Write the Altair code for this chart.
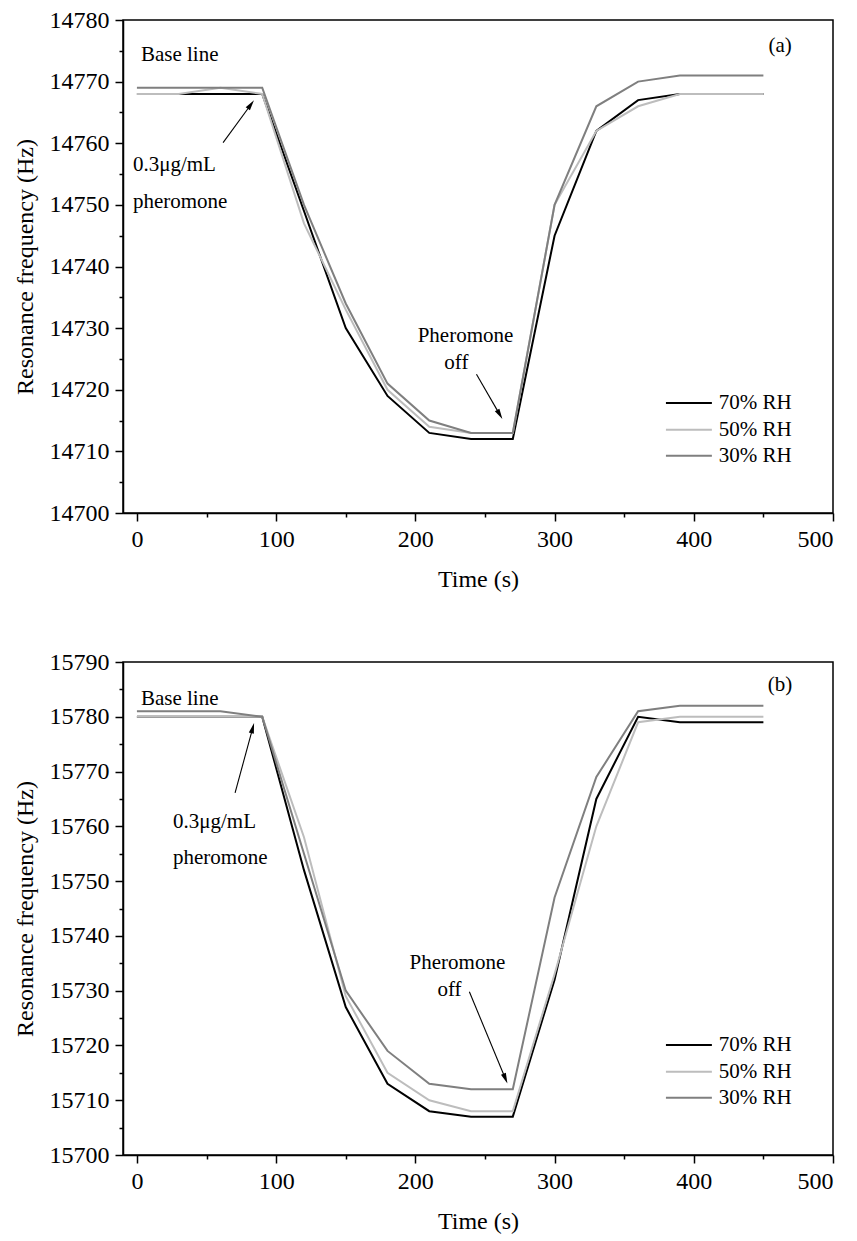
import math
import altair as alt
import pandas as pd

# ---------------- data ----------------
time_s = [0, 30, 60, 90, 120, 150, 180, 210, 240, 270, 300, 330, 360, 390, 420, 450]
rh_labels = ["70% RH", "50% RH", "30% RH"]
rh_colors = ["#000000", "#bdbdbd", "#7f7f7f"]

a_rh70 = [14768, 14768, 14768, 14768, 14749, 14730, 14719, 14713, 14712, 14712, 14745, 14762, 14767, 14768, 14768, 14768]
a_rh50 = [14768, 14768, 14769, 14768, 14747, 14733, 14720, 14714, 14713, 14713, 14750, 14762, 14766, 14768, 14768, 14768]
a_rh30 = [14769, 14769, 14769, 14769, 14750, 14734, 14721, 14715, 14713, 14713, 14750, 14766, 14770, 14771, 14771, 14771]

b_rh70 = [15780, 15780, 15780, 15780, 15752, 15727, 15713, 15708, 15707, 15707, 15732, 15765, 15780, 15779, 15779, 15779]
b_rh50 = [15780, 15780, 15780, 15780, 15758, 15729, 15715, 15710, 15708, 15708, 15733, 15760, 15779, 15780, 15780, 15780]
b_rh30 = [15781, 15781, 15781, 15780, 15755, 15730, 15719, 15713, 15712, 15712, 15747, 15769, 15781, 15782, 15782, 15782]

x_domain = [-10, 500]
a_ydomain = [14700, 14780]
b_ydomain = [15700, 15790]

# annotations (data coordinates)
a_left_text = ["Base line", "0.3\u03bcg/mL", "pheromone"]
a_left_t = [2.9, -2.9, -2.9]
a_left_f = [14774.3, 14756.4, 14750.4]
a_center_text = ["(a)", "Pheromone", "off"]
a_center_t = [462, 236, 229.5]
a_center_f = [14775.8, 14728.7, 14724.3]
a_tail_t = [61.9, 243.9]
a_tail_f = [14760.1, 14722.5]
a_tip_t = [84.2, 262.6]
a_tip_f = [14767.0, 14715.2]

b_left_text = ["Base line", "0.3\u03bcg/mL", "pheromone"]
b_left_t = [2.9, 25.9, 25.9]
b_left_f = [15783.2, 15760.8, 15754.2]
b_center_text = ["(b)", "Pheromone", "off"]
b_center_t = [462, 230.2, 224.5]
b_center_f = [15785.8, 15735.1, 15730.1]
b_tail_t = [70.5, 238.8]
b_tail_f = [15766.1, 15729.8]
b_tip_t = [84.2, 266.2]
b_tip_f = [15778.9, 15713.0]

legend_row_frac = [0.223, 0.169, 0.116]
legend_line_t = [380, 413]
legend_text_t = 418

# ---------------- style ----------------
FONT = "Liberation Serif"
W, H = 710, 493


def build_panel(vals, ydom, lt, lt_t, lt_f, ct, ct_t, ct_f, tail_t, tail_f, tip_t, tip_f):
    rows = []
    for lab, v in zip(rh_labels, vals):
        for t, f in zip(time_s, v):
            rows.append({"t": t, "f": f, "rh": lab})
    df = pd.DataFrame(rows)

    xs = alt.Scale(domain=x_domain, nice=False, zero=False)
    ys = alt.Scale(domain=ydom, nice=False, zero=False)
    color = alt.Color("rh:N", scale=alt.Scale(domain=rh_labels, range=rh_colors), legend=None)

    xaxis = alt.Axis(
        values=list(range(0, 501, 50)), format="d",
        labelExpr="datum.value % 100 === 0 ? datum.label : ''",
        tickSize={"condition": {"test": "datum.value % 100 === 0", "value": 8}, "value": 4},
        title="Time (s)", labelPadding=6, titlePadding=16, grid=False,
    )
    yaxis = alt.Axis(
        values=list(range(ydom[0], ydom[1] + 1, 5)), format="d",
        labelExpr="datum.value % 10 === 0 ? datum.label : ''",
        tickSize={"condition": {"test": "datum.value % 10 === 0", "value": 8}, "value": 4},
        title="Resonance frequency (Hz)", labelPadding=6, titlePadding=12, grid=False,
    )
    X = lambda f: alt.X(f, scale=xs, axis=xaxis, title="Time (s)")
    Y = lambda f: alt.Y(f, scale=ys, axis=yaxis, title="Resonance frequency (Hz)")

    lines = alt.Chart(df).mark_line(strokeWidth=2).encode(
        x=X("t:Q"), y=Y("f:Q"), color=color
    )

    left_df = pd.DataFrame({"label": lt, "t": lt_t, "f": lt_f})
    left_txt = alt.Chart(left_df).mark_text(
        align="left", baseline="middle", font=FONT, fontSize=21, color="black"
    ).encode(x=X("t:Q"), y=Y("f:Q"), text="label:N")

    center_df = pd.DataFrame({"label": ct, "t": ct_t, "f": ct_f})
    center_txt = alt.Chart(center_df).mark_text(
        align="center", baseline="middle", font=FONT, fontSize=21, color="black"
    ).encode(x=X("t:Q"), y=Y("f:Q"), text="label:N")

    kx = W / (x_domain[1] - x_domain[0])
    ky = H / (ydom[1] - ydom[0])
    arr_rows = []
    for t0, f0, t1, f1 in zip(tail_t, tail_f, tip_t, tip_f):
        dx = (t1 - t0) * kx
        dy = -(f1 - f0) * ky
        L = math.hypot(dx, dy)
        ux, uy = dx / L, dy / L
        ang = math.degrees(math.atan2(dx, -dy)) % 360
        back = 5.5
        ct_ = t1 - back * ux / kx
        cf_ = f1 + back * uy / ky
        arr_rows.append({"t": t0, "f": f0, "t1": t1 - 6 * ux / kx, "f1": f1 + 6 * uy / ky,
                         "ht": ct_, "hf": cf_, "ang": ang})
    arr_df = pd.DataFrame(arr_rows)
    shafts = alt.Chart(arr_df).mark_rule(strokeWidth=1.1, color="black").encode(
        x=X("t:Q"), y=Y("f:Q"), x2="t1:Q", y2="f1:Q"
    )
    heads = alt.Chart(arr_df).mark_point(
        shape="M0,-1L0.5,1L-0.5,1Z", filled=True, size=110, color="black", opacity=1
    ).encode(x=X("ht:Q"), y=Y("hf:Q"), angle=alt.Angle("ang:Q", scale=None))

    span = ydom[1] - ydom[0]
    leg_df = pd.DataFrame({
        "rh": rh_labels,
        "f": [ydom[0] + fr * span for fr in legend_row_frac],
        "t": [legend_line_t[0]] * 3,
        "t1": [legend_line_t[1]] * 3,
        "tt": [legend_text_t] * 3,
    })
    leg_lines = alt.Chart(leg_df).mark_rule(strokeWidth=2).encode(
        x=X("t:Q"), x2="t1:Q", y=Y("f:Q"), color=color
    )
    leg_text = alt.Chart(leg_df).mark_text(
        align="left", baseline="middle", font=FONT, fontSize=21, color="black"
    ).encode(x=X("tt:Q"), y=Y("f:Q"), text="rh:N")

    return alt.layer(lines, left_txt, center_txt, shafts, heads, leg_lines, leg_text).properties(
        width=W, height=H
    )


pa = build_panel([a_rh70, a_rh50, a_rh30], a_ydomain, a_left_text, a_left_t, a_left_f,
                 a_center_text, a_center_t, a_center_f, a_tail_t, a_tail_f, a_tip_t, a_tip_f)
pb = build_panel([b_rh70, b_rh50, b_rh30], b_ydomain, b_left_text, b_left_t, b_left_f,
                 b_center_text, b_center_t, b_center_f, b_tail_t, b_tail_f, b_tip_t, b_tip_f)

chart = alt.vconcat(pa, pb, spacing=149, bounds="flush").properties(
    padding={"left": 12, "top": 7, "right": 4, "bottom": 4},
    background="white",
).configure_view(
    stroke="black", strokeWidth=1.5
).configure_axis(
    domainColor="black", domainWidth=1.5, tickColor="black", tickWidth=1.5,
    labelFont=FONT, labelFontSize=24, labelColor="black",
    titleFont=FONT, titleFontSize=24, titleFontWeight="normal", titleColor="black",
)

chart.save("out.html", embed_options={"renderer": "svg", "actions": False})
